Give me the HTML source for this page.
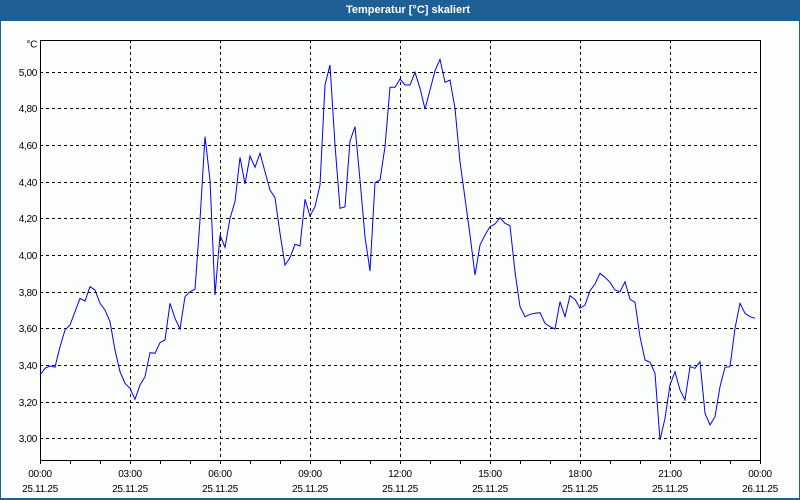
<!DOCTYPE html>
<html>
<head>
<meta charset="utf-8">
<style>
html,body{margin:0;padding:0;background:#fcfefc;}
svg{display:block;}
text{font-family:"Liberation Sans",Arial,sans-serif;}
</style>
</head>
<body>
<svg width="800" height="500" viewBox="0 0 800 500" xmlns="http://www.w3.org/2000/svg">
<rect x="0" y="0" width="800" height="500" fill="#1e5f96"/>
<rect x="1" y="21" width="798" height="477" fill="#fcfefc"/>
<text x="346" y="13" font-size="11" font-weight="bold" fill="#ffffff">Temperatur [°C] skaliert</text>

<!-- horizontal grid -->
<g stroke="#000" stroke-width="1" stroke-dasharray="3,3" fill="none">
<line x1="40" y1="72.5" x2="760" y2="72.5"/>
<line x1="40" y1="108.5" x2="760" y2="108.5"/>
<line x1="40" y1="145.5" x2="760" y2="145.5"/>
<line x1="40" y1="182.5" x2="760" y2="182.5"/>
<line x1="40" y1="218.5" x2="760" y2="218.5"/>
<line x1="40" y1="255.5" x2="760" y2="255.5"/>
<line x1="40" y1="292.5" x2="760" y2="292.5"/>
<line x1="40" y1="328.5" x2="760" y2="328.5"/>
<line x1="40" y1="365.5" x2="760" y2="365.5"/>
<line x1="40" y1="402.5" x2="760" y2="402.5"/>
<line x1="40" y1="438.5" x2="760" y2="438.5"/>
<line x1="130.5" y1="40" x2="130.5" y2="460"/>
<line x1="220.5" y1="40" x2="220.5" y2="460"/>
<line x1="310.5" y1="40" x2="310.5" y2="460"/>
<line x1="400.5" y1="40" x2="400.5" y2="460"/>
<line x1="490.5" y1="40" x2="490.5" y2="460"/>
<line x1="580.5" y1="40" x2="580.5" y2="460"/>
<line x1="670.5" y1="40" x2="670.5" y2="460"/>
</g>

<!-- axes frame -->
<rect x="40.5" y="40.5" width="720" height="420" fill="none" stroke="#000" stroke-width="1"/>

<!-- bottom ticks -->
<g stroke="#000" stroke-width="1">
<line x1="40.5" y1="460" x2="40.5" y2="464"/>
<line x1="70.5" y1="460" x2="70.5" y2="464"/>
<line x1="100.5" y1="460" x2="100.5" y2="464"/>
<line x1="130.5" y1="460" x2="130.5" y2="464"/>
<line x1="160.5" y1="460" x2="160.5" y2="464"/>
<line x1="190.5" y1="460" x2="190.5" y2="464"/>
<line x1="220.5" y1="460" x2="220.5" y2="464"/>
<line x1="250.5" y1="460" x2="250.5" y2="464"/>
<line x1="280.5" y1="460" x2="280.5" y2="464"/>
<line x1="310.5" y1="460" x2="310.5" y2="464"/>
<line x1="340.5" y1="460" x2="340.5" y2="464"/>
<line x1="370.5" y1="460" x2="370.5" y2="464"/>
<line x1="400.5" y1="460" x2="400.5" y2="464"/>
<line x1="430.5" y1="460" x2="430.5" y2="464"/>
<line x1="460.5" y1="460" x2="460.5" y2="464"/>
<line x1="490.5" y1="460" x2="490.5" y2="464"/>
<line x1="520.5" y1="460" x2="520.5" y2="464"/>
<line x1="550.5" y1="460" x2="550.5" y2="464"/>
<line x1="580.5" y1="460" x2="580.5" y2="464"/>
<line x1="610.5" y1="460" x2="610.5" y2="464"/>
<line x1="640.5" y1="460" x2="640.5" y2="464"/>
<line x1="670.5" y1="460" x2="670.5" y2="464"/>
<line x1="700.5" y1="460" x2="700.5" y2="464"/>
<line x1="730.5" y1="460" x2="730.5" y2="464"/>
<line x1="760.5" y1="460" x2="760.5" y2="464"/>
</g>

<!-- y labels -->
<g font-size="10" fill="#000" text-anchor="end" letter-spacing="-0.3">
<text x="37" y="47.5">°C</text>
<text x="37" y="76">5,00</text>
<text x="37" y="112">4,80</text>
<text x="37" y="149">4,60</text>
<text x="37" y="186">4,40</text>
<text x="37" y="222">4,20</text>
<text x="37" y="259">4,00</text>
<text x="37" y="296">3,80</text>
<text x="37" y="332">3,60</text>
<text x="37" y="369">3,40</text>
<text x="37" y="406">3,20</text>
<text x="37" y="442">3,00</text>
</g>

<!-- x labels -->
<g font-size="10" fill="#000" text-anchor="middle" letter-spacing="-0.3">
<text x="40" y="477">00:00</text><text x="40" y="492">25.11.25</text>
<text x="130" y="477">03:00</text><text x="130" y="492">25.11.25</text>
<text x="220" y="477">06:00</text><text x="220" y="492">25.11.25</text>
<text x="310" y="477">09:00</text><text x="310" y="492">25.11.25</text>
<text x="400" y="477">12:00</text><text x="400" y="492">25.11.25</text>
<text x="490" y="477">15:00</text><text x="490" y="492">25.11.25</text>
<text x="580" y="477">18:00</text><text x="580" y="492">25.11.25</text>
<text x="670" y="477">21:00</text><text x="670" y="492">25.11.25</text>
<text x="760" y="477">00:00</text><text x="760" y="492">26.11.25</text>
</g>

<!-- data series -->
<polyline fill="none" stroke="#0000ff" stroke-width="1" stroke-linejoin="miter" points="
40,375 45,368.3 50,366 55,367.3 60,346.7 65,330 70,325 75,311.7 80,298.3 85,301
90,286.7 95,290 100,303.3 105,310 110,321.7 115,350 120,371.7 125,383.3 130,388.3 135,399.3
140,385 145,376.7 150,352.7 155,353.3 160,342.7 165,340 170,303.3 175,318.3 180,329 185,296.7
190,291.7 195,289.3 200,220 205,136.7 210,180 215,295 220,235 225,247.3 230,218.3 235,201.7
240,157.3 245,184 250,156 255,167.3 260,153.3 265,171.7 270,190 275,197.7 280,233.3 285,265
290,257.7 295,244.3 300,246 305,199.3 310,216 315,206.7 320,185 325,85 330,65 335,145
340,208.3 345,206.7 350,141 355,126.7 360,180 365,236.7 370,271 375,182.7 380,180 385,146.7
390,87.3 395,87.3 400,79 405,85 410,85 415,72.3 420,88.3 425,109 430,90 435,70.7
440,59.3 445,82.3 450,80 455,108.3 460,161.7 465,198.3 470,235 475,275 480,245 485,235
490,226.7 495,224 500,217.7 505,223.3 510,225.7 515,271.7 520,306.7 525,316.7 530,314.3 535,313.3
540,312.7 545,323.3 550,326.7 555,329 560,301.7 565,316.7 570,295.7 575,299.3 580,308.3 585,305
590,290.7 595,284 600,273.3 605,277.3 610,282.3 615,290 620,291.7 625,281.7 630,299.3 635,302.3
640,336.7 645,360 650,362.3 655,373.3 660,440 665,418.3 670,385 675,371.7 680,390 685,400
690,366.7 695,368.3 700,361.7 705,413.3 710,425 715,416.7 720,386.7 725,367.3 730,366.7 735,328.3
740,303.3 745,313.3 750,316.7 755,318.3"/>
</svg>
</body>
</html>
